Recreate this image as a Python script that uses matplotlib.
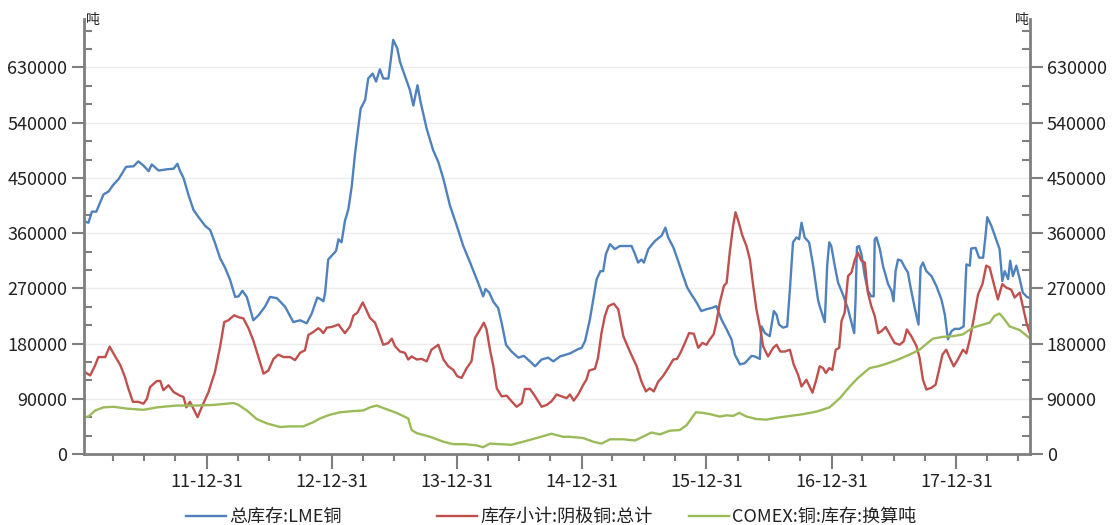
import numpy as np
import pandas as pd
import matplotlib
matplotlib.use('Agg')
import matplotlib.pyplot as plt

plt.rcParams['font.family'] = ['Noto Sans CJK SC', 'DejaVu Sans']

# dates are ISO ordinal dates (year-dayofyear), values in tonnes
lme_dates = ['2011-007','2011-019','2011-029','2011-042','2011-063','2011-078','2011-092','2011-107',
	'2011-129','2011-151','2011-165','2011-180','2011-195','2011-204','2011-224','2011-248','2011-268',
	'2011-279','2011-287','2011-297','2011-311','2011-326','2011-341','2011-360','2012-010','2012-024',
	'2012-039','2012-054','2012-068','2012-083','2012-093','2012-104','2012-117','2012-136','2012-151',
	'2012-170','2012-185','2012-205','2012-229','2012-253','2012-273','2012-292','2012-307','2012-323',
	'2012-331','2012-341','2012-346','2012-355','2012-365','2013-012','2013-019','2013-028','2013-038',
	'2013-048','2013-058','2013-067','2013-074','2013-084','2013-097','2013-106','2013-119','2013-129',
	'2013-140','2013-150','2013-165','2013-172','2013-179','2013-191','2013-199','2013-213','2013-228',
	'2013-238','2013-250','2013-259','2013-277','2013-296','2013-311','2013-326','2013-345','2013-365',
	'2014-019','2014-039','2014-058','2014-068','2014-077','2014-084','2014-095','2014-107','2014-121',
	'2014-131','2014-144','2014-160','2014-180','2014-196','2014-214','2014-229','2014-248','2014-267',
	'2014-282','2014-302','2014-331','2014-355','2014-365','2015-010','2015-024','2015-034','2015-044',
	'2015-055','2015-063','2015-071','2015-083','2015-097','2015-112','2015-131','2015-146','2015-156',
	'2015-165','2015-175','2015-182','2015-195','2015-214','2015-234','2015-245','2015-253','2015-268',
	'2015-282','2015-297','2015-309','2015-321','2015-336','2015-350','2015-365','2016-015','2016-029',
	'2016-044','2016-059','2016-073','2016-083','2016-098','2016-112','2016-132','2016-141','2016-156',
	'2016-161','2016-171','2016-185','2016-197','2016-205','2016-212','2016-224','2016-236','2016-244',
	'2016-253','2016-263','2016-271','2016-278','2016-287','2016-300','2016-312','2016-326','2016-331',
	'2016-346','2016-353','2016-359','2016-365','2017-009','2017-019','2017-033','2017-048','2017-058',
	'2017-066','2017-070','2017-074','2017-080','2017-087','2017-097','2017-106','2017-116','2017-123',
	'2017-126','2017-131','2017-141','2017-150','2017-165','2017-175','2017-181','2017-187','2017-194',
	'2017-204','2017-214','2017-223','2017-230','2017-243','2017-254','2017-260','2017-267','2017-277',
	'2017-292','2017-306','2017-321','2017-331','2017-340','2017-350','2017-360','2018-009','2018-021',
	'2018-029','2018-039','2018-043','2018-056','2018-066','2018-078','2018-085','2018-090','2018-102',
	'2018-116','2018-126','2018-134','2018-141','2018-151','2018-157','2018-165','2018-175','2018-185',
	'2018-194','2018-206','2018-216']
lme_values = [379000,377000,395000,395000,423000,428000,439000,448000,468000,469000,477000,470000,
	461000,472000,462000,464000,465000,473000,461000,450000,423000,398000,386000,372000,365000,344000,
	319000,303000,284000,256000,257000,266000,256000,218000,226000,240000,256000,254000,240000,215000,
	218000,213000,229000,255000,253000,249000,263000,317000,323000,331000,350000,345000,380000,399000,
	437000,487000,519000,563000,577000,612000,620000,607000,627000,612000,612000,642000,675000,661000,
	639000,617000,593000,568000,601000,574000,530000,495000,476000,448000,405000,372000,339000,312000,
	285000,271000,257000,269000,263000,248000,238000,214000,178000,167000,157000,160000,151000,143000,
	154000,157000,151000,159000,164000,171000,173000,184000,219000,252000,285000,298000,298000,326000,
	342000,334000,339000,339000,339000,326000,312000,317000,312000,334000,347000,356000,369000,353000,
	337000,315000,290000,271000,260000,247000,233000,236000,238000,241000,219000,203000,187000,162000,
	146000,148000,160000,159000,155000,208000,197000,192000,233000,227000,211000,206000,208000,268000,
	345000,353000,350000,377000,353000,345000,307000,252000,241000,215000,307000,345000,339000,307000,
	279000,260000,236000,214000,197000,252000,337000,339000,326000,290000,266000,257000,257000,350000,
	353000,334000,307000,277000,266000,249000,298000,317000,315000,304000,296000,274000,238000,211000,
	304000,312000,298000,290000,274000,252000,227000,187000,200000,204000,204000,208000,309000,307000,
	335000,336000,320000,320000,356000,386000,372000,350000,334000,282000,298000,285000,315000,290000,
	307000,285000,263000,256000,254000]

cathode_dates = ['2011-007','2011-024','2011-039','2011-048','2011-068','2011-081','2011-092','2011-112',
	'2011-126','2011-136','2011-149','2011-165','2011-180','2011-190','2011-199','2011-219','2011-229',
	'2011-238','2011-253','2011-268','2011-287','2011-297','2011-305','2011-316','2011-338','2011-350',
	'2012-005','2012-024','2012-039','2012-051','2012-063','2012-080','2012-093','2012-107','2012-122',
	'2012-136','2012-151','2012-166','2012-180','2012-195','2012-209','2012-224','2012-244','2012-258',
	'2012-273','2012-287','2012-297','2012-312','2012-326','2012-331','2012-341','2012-351','2012-365',
	'2013-019','2013-038','2013-053','2013-063','2013-074','2013-090','2013-102','2013-111','2013-126',
	'2013-139','2013-150','2013-165','2013-175','2013-184','2013-199','2013-213','2013-223','2013-233',
	'2013-248','2013-262','2013-277','2013-291','2013-311','2013-326','2013-340','2013-355','2014-001',
	'2014-014','2014-029','2014-043','2014-053','2014-068','2014-079','2014-087','2014-097','2014-107',
	'2014-117','2014-131','2014-146','2014-160','2014-175','2014-190','2014-199','2014-214','2014-229',
	'2014-248','2014-263','2014-277','2014-292','2014-306','2014-321','2014-331','2014-342','2014-355',
	'2015-005','2015-014','2015-022','2015-039','2015-048','2015-058','2015-068','2015-078','2015-094',
	'2015-107','2015-122','2015-141','2015-161','2015-175','2015-188','2015-199','2015-211','2015-224',
	'2015-238','2015-253','2015-268','2015-279','2015-289','2015-302','2015-314','2015-328','2015-341',
	'2015-353','2015-365','2016-010','2016-021','2016-029','2016-039','2016-051','2016-059','2016-068',
	'2016-078','2016-085','2016-093','2016-105','2016-117','2016-127','2016-136','2016-146','2016-156',
	'2016-166','2016-180','2016-195','2016-205','2016-216','2016-229','2016-244','2016-255','2016-268',
	'2016-278','2016-292','2016-310','2016-321','2016-331','2016-341','2016-349','2016-359','2017-002',
	'2017-012','2017-022','2017-029','2017-038','2017-048','2017-058','2017-068','2017-077','2017-087',
	'2017-097','2017-106','2017-116','2017-126','2017-136','2017-145','2017-158','2017-170','2017-184',
	'2017-199','2017-211','2017-220','2017-233','2017-248','2017-257','2017-267','2017-277','2017-292',
	'2017-304','2017-314','2017-324','2017-335','2017-345','2017-357','2018-004','2018-019','2018-029',
	'2018-039','2018-050','2018-063','2018-076','2018-087','2018-097','2018-107','2018-121','2018-134',
	'2018-146','2018-160','2018-170','2018-185','2018-196','2018-206','2018-216']
cathode_values = [134000,128000,145000,158000,158000,175000,164000,145000,125000,106000,85000,85000,
	82000,90000,109000,119000,119000,104000,112000,101000,95000,93000,76000,85000,60000,76000,101000,
	134000,175000,215000,218000,226000,223000,221000,205000,185000,158000,131000,136000,155000,162000,
	158000,158000,153000,165000,169000,194000,199000,205000,203000,197000,206000,207000,211000,197000,
	208000,226000,230000,247000,233000,222000,214000,195000,178000,181000,188000,176000,167000,165000,
	154000,159000,154000,155000,151000,170000,178000,154000,143000,137000,127000,124000,140000,151000,
	189000,203000,214000,203000,170000,143000,107000,94000,95000,86000,77000,83000,106000,106000,94000,
	77000,80000,86000,97000,94000,91000,97000,87000,97000,113000,121000,136000,139000,157000,197000,
	225000,241000,245000,236000,192000,167000,143000,118000,102000,107000,102000,118000,127000,140000,
	154000,155000,165000,181000,197000,196000,173000,181000,178000,187000,195000,214000,247000,274000,
	279000,328000,372000,394000,380000,356000,339000,317000,277000,236000,208000,175000,159000,173000,
	178000,167000,167000,170000,146000,129000,110000,121000,100000,121000,143000,140000,132000,140000,
	137000,170000,173000,217000,230000,290000,296000,317000,328000,315000,312000,263000,241000,225000,
	197000,200000,207000,195000,181000,178000,184000,203000,192000,176000,157000,121000,105000,108000,
	113000,137000,162000,170000,157000,143000,154000,170000,164000,187000,219000,260000,277000,307000,
	304000,282000,252000,277000,271000,268000,255000,263000,236000,211000,195000]

comex_dates = ['2011-007','2011-019','2011-039','2011-063','2011-092','2011-131','2011-180','2011-219',
	'2011-277','2011-336','2012-020','2012-058','2012-078','2012-093','2012-117','2012-146','2012-175',
	'2012-214','2012-244','2012-282','2012-312','2012-331','2012-360','2013-024','2013-063','2013-092',
	'2013-111','2013-131','2013-150','2013-189','2013-223','2013-233','2013-248','2013-287','2013-326',
	'2013-355','2014-024','2014-058','2014-077','2014-097','2014-126','2014-160','2014-194','2014-233',
	'2014-277','2014-311','2014-331','2015-005','2015-034','2015-058','2015-083','2015-122','2015-156',
	'2015-175','2015-204','2015-229','2015-258','2015-287','2015-307','2015-321','2015-334','2015-355',
	'2016-010','2016-039','2016-059','2016-078','2016-096','2016-117','2016-146','2016-175','2016-205',
	'2016-244','2016-283','2016-321','2016-360','2017-024','2017-053','2017-077','2017-111','2017-136',
	'2017-160','2017-199','2017-228','2017-257','2017-296','2017-326','2017-355','2018-019','2018-048',
	'2018-078','2018-097','2018-111','2018-126','2018-141','2018-155','2018-185','2018-216']
comex_values = [60000,61000,71000,76000,77000,74000,72000,76000,79000,79000,80000,82000,83000,80000,
	71000,57000,50000,44000,45000,45000,52000,58000,64000,68000,70000,71000,76000,79000,75000,67000,
	58000,39000,34000,28000,20000,16000,16000,14000,11000,17000,16000,15000,20000,26000,33000,28000,
	28000,26000,20000,17000,24000,24000,22000,27000,35000,32000,38000,39000,47000,58000,68000,67000,
	65000,61000,63000,62000,67000,61000,57000,56000,59000,62000,65000,69000,76000,91000,110000,124000,
	140000,143000,147000,155000,162000,170000,188000,191000,192000,195000,206000,211000,214000,225000,
	229000,219000,208000,202000,188000]

labels = ['总库存:LME铜', '库存小计:阴极铜:总计', 'COMEX:铜:库存:换算吨']
colors = ['#4f81bd', '#c0504d', '#9bbb59']
year_ends = ['2011-12-31', '2012-12-31', '2013-12-31', '2014-12-31', '2015-12-31', '2016-12-31', '2017-12-31']

def to_dt(d):
	return pd.to_datetime(d, format='%Y-%j')

fig = plt.figure(figsize=(11.14, 5.25), dpi=100)
ax = fig.add_axes([84/1114, 71/525, 946/1114, 435/525])

series = [(lme_dates, lme_values), (cathode_dates, cathode_values), (comex_dates, comex_values)]
lines = []
for (d, v), c, lab in zip(series, colors, labels):
	ln, = ax.plot(to_dt(d), v, color=c, lw=1.7, label=lab, solid_joinstyle='round')
	lines.append(ln)

ax.set_xlim(pd.Timestamp('2011-01-06'), pd.Timestamp('2018-08-03'))
ax.set_ylim(0, 709000)

grey = '#7f7f7f'
yt = np.arange(0, 700000, 90000)
ax.set_yticks(yt)
ax.set_yticks(np.arange(0, 709000, 30000), minor=True)
ax.set_yticklabels([str(v) for v in yt])
ax.grid(axis='y', which='major', color='#ececec', lw=1)
ax.set_axisbelow(True)

xt = pd.to_datetime(year_ends)
ax.set_xticks(xt)
ax.set_xticklabels([t.strftime('%y-%m-%d') for t in xt])
qt = pd.date_range('2011-03-31', '2018-07-31', freq='QE')
ax.set_xticks([q for q in qt if q.month != 12], minor=True)

ax.tick_params(axis='y', which='major', direction='out', length=9, width=1.5, color=grey,
	labelsize=13, labelcolor='#222222', left=True, right=True, labelleft=True, labelright=True, pad=3)
ax.tick_params(axis='y', which='minor', direction='in', length=6, width=1.5, color=grey, left=True, right=True)
ax.tick_params(axis='x', which='major', direction='out', length=11, width=1.5, color=grey,
	labelsize=13, labelcolor='#222222', pad=3)
ax.tick_params(axis='x', which='minor', direction='out', length=5, width=1.5, color=grey)

ax.spines['top'].set_visible(False)
for s in ['left', 'right', 'bottom']:
	ax.spines[s].set_color(grey)
	ax.spines[s].set_linewidth(2)

fig.text(86/1114, 1 - 20/525, '吨', fontsize=10, color='#222222', ha='left', va='center')
fig.text(1029/1114, 1 - 20/525, '吨', fontsize=10, color='#222222', ha='right', va='center')

for ln, x0 in zip(lines, [186, 437, 689]):
	fig.legend(handles=[ln], loc='center left', bbox_to_anchor=(x0/1114, 1 - 517/525), frameon=False,
		fontsize=13, handlelength=2.2, handletextpad=0.2, borderpad=0, borderaxespad=0, labelcolor='#222222')

fig.savefig('out.png', dpi=100)
